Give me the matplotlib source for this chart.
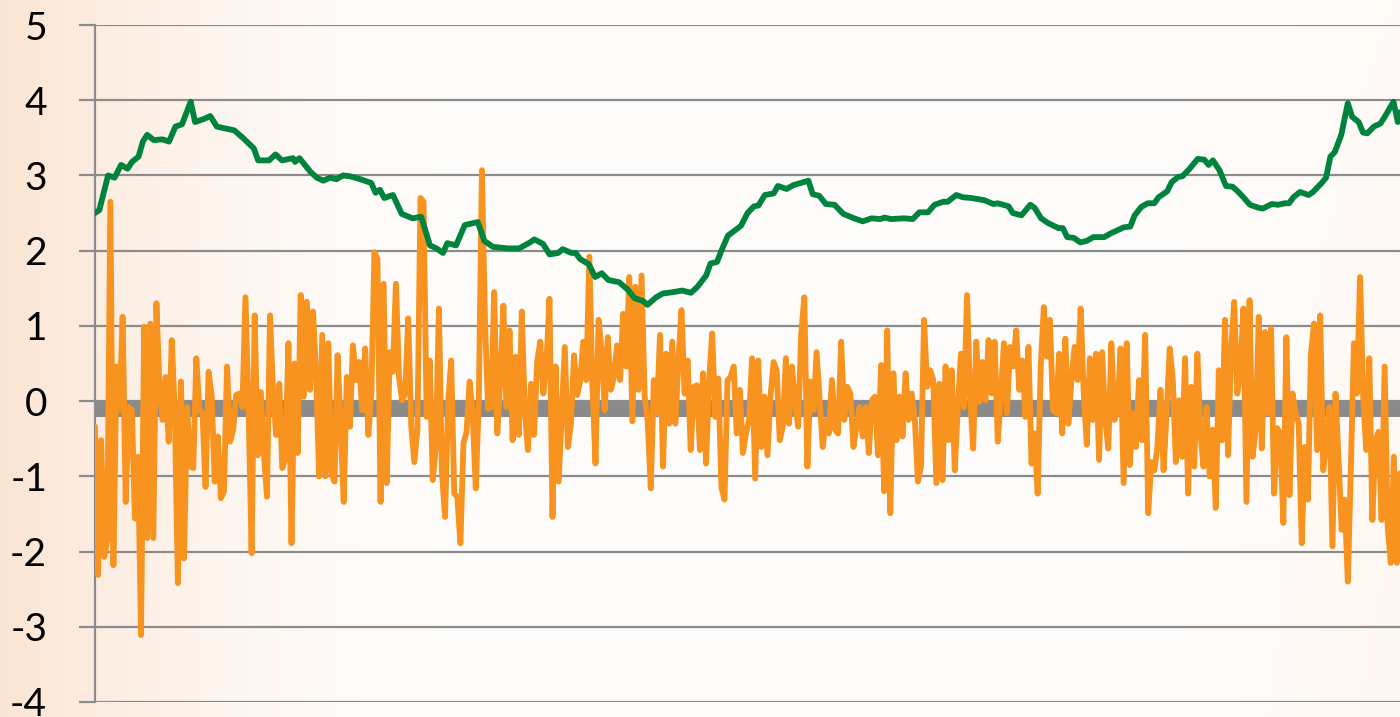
import matplotlib
matplotlib.use("Agg")
import matplotlib.pyplot as plt
import numpy as np

# orange series: daily values, evenly spaced across the axis
orange = [
    -0.34, -2.31, -0.52, -2.07, -1.85, 2.65, -2.18, 0.46, -0.12, 1.12,
    -1.34, -0.08, -0.12, -1.56, -0.74, -3.11, 0.99, -1.82, 1.03, -1.82,
    1.30, 0.19, -0.25, 0.32, -0.54, 0.81, -0.16, -2.42, 0.26, -2.09,
    -0.08, -0.87, -0.89, 0.57, -0.12, -0.16, -1.14, 0.39, 0.06, -1.07,
    -0.47, -1.29, -1.20, 0.46, -0.54, -0.38, 0.08, 0.10, -0.08, 1.38,
    -0.08, -2.02, 1.14, -0.72, 0.12, -0.69, -1.27, 1.14, 0.10, -0.45,
    0.23, -0.89, -0.76, 0.77, -1.89, 0.50, -0.69, 1.41,
    0.06, 1.32, 0.15, 1.19, 0.37, -1.00, 0.88, -1.00, 0.77, -0.96,
    -1.07, 0.61, -0.34, -1.34, 0.32, -0.34, 0.74, 0.28, 0.52, -0.12,
    0.70, -0.45, 0.10, 1.98, 1.89, -1.34, 1.56, -1.09, 0.65, 0.39,
    1.56, 0.32, 0.01, 0.10, 1.10, -0.34, -0.81, -0.38, 2.70, 2.65,
    -0.21, 0.54, -1.05, -0.61, 1.23, -0.96, -1.54, -0.03, 0.54, -1.23,
    -1.27, -1.89, -0.56, -0.41, 0.26, -0.16, -1.16, 0.01, 3.07, 1.08,
    -0.10, -0.08, 1.45, -0.43, 0.28, 1.27, -0.08, 0.94, -0.52, 0.59,
    -0.45, 1.19, -0.16, -0.65,
    0.23, -0.45, 0.52, 0.79, 0.10, 0.50, 1.36, -1.54, 0.46, -1.07,
    -0.16, 0.72, -0.61, -0.30, 0.61, 0.08, 0.26, 0.79, 0.28, 1.92,
    0.19, -0.83, 1.08, 0.68, -0.12, 0.85, 0.15, 0.32, 0.74, 0.28,
    1.16, 0.46, 1.65, -0.27, 1.52, 0.15, 1.67, 0.06, -0.27, -1.16,
    0.28, -0.16, 0.88, -0.87, 0.63, -0.30, 0.79, -0.30, 0.54, 1.21,
    0.10, 0.54, -0.65, 0.19, 0.21, -0.65, 0.37, -0.83, 0.28, 0.90,
    -0.21, 0.30, -1.14, -1.31, 0.28, 0.32, 0.46, -0.43,
    0.15, -0.69, -0.43, -0.25, 0.57, -1.03, 0.54, -0.61, 0.06, -0.72,
    0.06, 0.52, 0.41, -0.52, -0.34, 0.57, -0.30, 0.46, -0.03, -0.34,
    0.90, 1.38, -0.87, 0.26, -0.12, 0.65, 0.01, -0.61, -0.25, -0.43,
    0.28, -0.38, -0.43, 0.79, -0.25, 0.19, 0.10, -0.61, -0.34, -0.08,
    -0.47, -0.08, -0.69, 0.01, 0.06, -0.72, 0.48, -1.20, 0.94, -1.49,
    0.37, -0.52, 0.06, -0.47, 0.37, -0.25, 0.10, -0.25, -1.07, -0.87,
    1.08, 0.19, 0.41, 0.28, -1.09, 0.23, -1.05, 0.46, -0.52, 0.41,
    -0.92,
    -0.08, 0.63, -0.08, 1.41, 0.06, -0.63, 0.79, -0.01, 0.52, 0.01,
    0.81, 0.10, 0.79, -0.54, 0.06, 0.77, -0.16, 0.72, 0.46, 0.94,
    0.15, 0.54, -0.21, 0.72, -0.83, -0.43, -1.23, 0.46, 1.25, 0.59,
    1.08, -0.12, -0.16, 0.63, -0.43, 0.83, -0.30, 0.28, 0.72, 0.28,
    1.23, 0.10, -0.58, 0.57, -0.25, 0.63, -0.78, 0.65, -0.25, -0.63,
    0.77, -0.25, -0.12, 0.70, -1.09, 0.77, -0.85, -0.16, -0.61, 0.28,
    -0.52, 0.88, -1.49, -0.81, -0.92, -0.61, 0.15, -0.92, -0.16, 0.70,
    0.28, -0.81, 0.01, -0.74, 0.57, -1.23,
    0.19, -0.87, 0.63, -0.43, -0.87, -0.08, -1.00, -0.38, -1.42, 0.41,
    -0.52, 1.08, -0.72, 0.68, 1.32, 0.10, 0.39, 1.23, -1.34, 1.34,
    -0.74, -0.38, 1.12, -0.63, 0.92, -0.16, 0.96, -1.23, -0.36, -0.43,
    -1.62, 0.85, -1.25, 0.10, -0.16, -0.30, -1.89, -0.61, -1.31, 0.63,
    1.03, -0.65, 1.14, -0.92, -0.52, -0.08, -1.93, 0.10, -0.78, -1.71,
    -1.31, -2.40, -0.89, 0.77, 0.10, 1.65, 0.06, -0.65, 0.57, -1.58,
    -0.52, -0.41, -1.58, 0.46, -1.67, -2.15, -0.74, -2.15, -0.96,
]

# green series: smoother indicator, sampled at these days
green_day = [
    0, 2, 6, 9, 12, 15, 17, 20, 22, 24, 27, 31, 34, 37, 40, 44, 46, 50, 53, 56,
    59, 64, 68, 73, 75, 80, 83, 86, 91, 92, 94, 99, 102, 105, 108, 111, 114, 117,
    122, 127, 129, 131, 133, 137, 141, 146, 150, 154, 157, 160, 162, 166, 170, 176,
    179, 183, 190, 195, 200, 202, 206, 209, 213, 215, 219, 221, 223, 227, 230, 233,
    236, 241, 245, 248, 252, 254, 258, 261, 266, 270, 274, 277, 281, 283, 286, 288,
    291, 297, 300, 303, 305, 308, 312, 314, 318, 321, 328, 330, 333, 336, 340, 344,
    349, 353, 357, 361, 363, 366, 372, 376, 379, 383, 386, 390, 392, 396, 399, 403,
    409, 413, 415, 420, 422, 426, 430, 432, 435, 438, 443, 445, 447, 450, 453, 456,
    459, 464, 467, 470, 473, 476, 478, 481, 484, 487, 489, 493, 495, 498, 500, 503,
    507, 510, 512, 514, 517, 520, 523, 525, 528, 531, 535, 537, 541, 544, 547, 549,
    551, 554, 558, 560, 564, 566, 568, 570, 573, 576, 578, 581, 583, 585, 588, 591,
    593, 597, 599, 600,
]
green = [
    2.50, 2.54, 3.00, 2.97, 3.14, 3.09, 3.18, 3.25, 3.45, 3.54, 3.47, 3.48, 3.45, 3.65, 3.68, 3.98, 3.71, 3.75, 3.79, 3.65,
    3.63, 3.60, 3.50, 3.36, 3.20, 3.20, 3.28, 3.20, 3.23, 3.18, 3.23, 3.05, 2.97, 2.93, 2.97, 2.95, 3.00, 2.99,
    2.95, 2.90, 2.77, 2.81, 2.70, 2.74, 2.49, 2.43, 2.45, 2.07, 2.03, 1.97, 2.10, 2.07, 2.34, 2.38,
    2.13, 2.05, 2.03, 2.03, 2.11, 2.15, 2.09, 1.95, 1.97, 2.02, 1.97, 1.97, 1.89, 1.82, 1.65, 1.70,
    1.61, 1.58, 1.48, 1.37, 1.33, 1.28, 1.38, 1.43, 1.45, 1.47, 1.44, 1.52, 1.67, 1.83, 1.85, 2.00,
    2.20, 2.33, 2.50, 2.59, 2.60, 2.74, 2.76, 2.86, 2.82, 2.87, 2.93, 2.75, 2.73, 2.62, 2.61, 2.49,
    2.43, 2.39, 2.43, 2.42, 2.44, 2.42, 2.43, 2.42, 2.51, 2.51, 2.61, 2.65, 2.65, 2.74, 2.71, 2.70,
    2.67, 2.62, 2.63, 2.59, 2.50, 2.47, 2.61, 2.57, 2.43, 2.37, 2.30, 2.30, 2.18, 2.17, 2.11, 2.13,
    2.18, 2.18, 2.23, 2.27, 2.31, 2.32, 2.47, 2.58, 2.63, 2.63, 2.71, 2.79, 2.91, 2.98, 2.99, 3.08,
    3.22, 3.21, 3.14, 3.20, 3.07, 2.86, 2.85, 2.80, 2.71, 2.61, 2.57, 2.56, 2.62, 2.61, 2.63, 2.63,
    2.71, 2.78, 2.74, 2.78, 2.90, 2.97, 3.25, 3.31, 3.54, 3.96, 3.78, 3.71, 3.57, 3.56, 3.65, 3.69,
    3.78, 3.98, 3.71, 3.84,
]

baseline = -0.1
yticks = [-4, -3, -2, -1, 0, 1, 2, 3, 4, 5]

W, H = 1400, 717
fig = plt.figure(figsize=(W / 100, H / 100), dpi=100)

# soft peach background, strongest at the left edge
bg = fig.add_axes([0, 0, 1, 1], zorder=-10)
gx, gy = np.meshgrid(np.linspace(0, 1, 280), np.linspace(0, 1, 144))
w = np.clip(1 - gx / 0.32, 0, 1) ** 1.8 * 0.8
w = w + np.clip((gx - 0.85) / 0.15, 0, 1) * 0.18 * (0.4 + 0.6 * gy)
w = np.clip(w + 0.1, 0, 1)
white = np.array([1.0, 1.0, 1.0])
peach = np.array([251, 226, 206]) / 255
img = white[None, None, :] * (1 - w[..., None]) + peach[None, None, :] * w[..., None]
bg.imshow(img, aspect="auto", extent=[0, 1, 0, 1], origin="upper")
bg.set_axis_off()

ax = fig.add_axes([95 / W, 15 / H, 1305 / W, 677 / H])
ax.set_facecolor("none")

x_orange = np.linspace(0, 600, len(orange))
ax.axhline(baseline, color="#8a8a8a", lw=10.8, zorder=2, solid_capstyle="butt")
ax.plot(x_orange, orange, color="#f7931e", lw=4.2, zorder=3,
        solid_joinstyle="round", solid_capstyle="round")
ax.plot(green_day, green, color="#00843d", lw=4.2, zorder=4,
        solid_joinstyle="round", solid_capstyle="round")

ax.set_xlim(0, 600)
ax.set_ylim(-4, 5)
ax.set_yticks(yticks)
ax.set_yticklabels([str(t) for t in yticks], fontsize=28, family="Lato")
ax.set_xticks([])
ax.grid(axis="y", color="#8c8c8c", lw=1.6, zorder=1)
ax.tick_params(axis="y", length=11.5, width=1.6, color="#8c8c8c", pad=23)
for s in ["top", "right", "bottom"]:
    ax.spines[s].set_visible(False)
ax.spines["left"].set_color("#8c8c8c")
ax.spines["left"].set_linewidth(1.6)

fig.savefig("out.png", dpi=100)
